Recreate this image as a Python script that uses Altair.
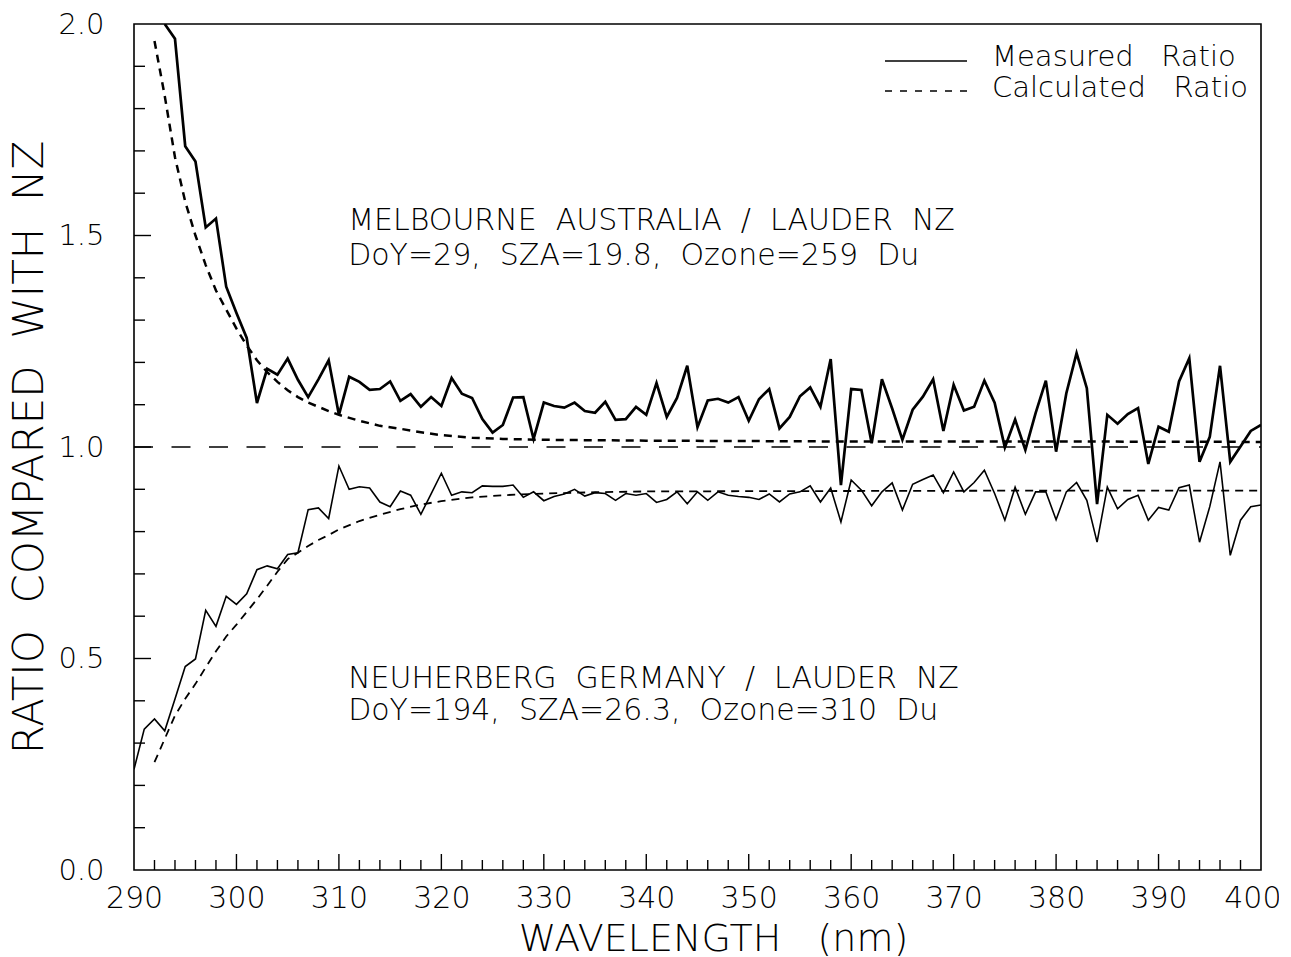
import altair as alt
import pandas as pd

FONT = "DejaVu Sans"
FW = 300
SP = " \u00a0"  # wider word gap

# ---------------- data ----------------
mel_wl = list(range(293, 401))
mel_meas = [
    2.000, 1.965, 1.711, 1.675, 1.519, 1.540, 1.379, 1.317, 1.258, 1.104,   # 293-302
    1.185, 1.171, 1.209, 1.159, 1.118, 1.160, 1.205, 1.076, 1.166, 1.154,   # 303-312
    1.135, 1.137, 1.155, 1.109, 1.125, 1.095, 1.118, 1.097, 1.163, 1.126,   # 313-322
    1.116, 1.066, 1.034, 1.052, 1.117, 1.118, 1.019, 1.105, 1.097, 1.093,   # 323-332
    1.105, 1.085, 1.081, 1.107, 1.064, 1.066, 1.095, 1.076, 1.151, 1.071,   # 333-342
    1.116, 1.192, 1.047, 1.110, 1.114, 1.105, 1.118, 1.062, 1.113, 1.137,   # 343-352
    1.044, 1.071, 1.120, 1.141, 1.095, 1.208, 0.910, 1.137, 1.135, 1.009,   # 353-362
    1.160, 1.091, 1.017, 1.088, 1.119, 1.160, 1.038, 1.147, 1.086, 1.095,   # 363-372
    1.157, 1.105, 0.999, 1.065, 0.993, 1.080, 1.157, 0.989, 1.127, 1.222,   # 373-382
    1.139, 0.865, 1.076, 1.055, 1.078, 1.092, 0.960, 1.048, 1.036, 1.155,   # 383-392
    1.210, 0.965, 1.024, 1.192, 0.965, 1.001, 1.038, 1.052,                 # 393-400
]

neu_wl = list(range(290, 401))
neu_meas = [
    0.238, 0.333, 0.357, 0.329, 0.404, 0.481, 0.499, 0.614, 0.576, 0.647,   # 290-299
    0.628, 0.653, 0.710, 0.719, 0.712, 0.746, 0.750, 0.852, 0.856, 0.831,   # 300-309
    0.955, 0.900, 0.906, 0.903, 0.870, 0.859, 0.896, 0.886, 0.841, 0.889,   # 310-319
    0.938, 0.886, 0.894, 0.892, 0.908, 0.907, 0.907, 0.910, 0.881, 0.894,   # 320-329
    0.873, 0.883, 0.889, 0.900, 0.884, 0.892, 0.890, 0.874, 0.890, 0.886,   # 330-339
    0.890, 0.869, 0.876, 0.894, 0.866, 0.894, 0.874, 0.894, 0.886, 0.883,   # 340-349
    0.881, 0.876, 0.889, 0.870, 0.889, 0.894, 0.908, 0.870, 0.903, 0.823,   # 350-359
    0.922, 0.898, 0.861, 0.894, 0.915, 0.851, 0.912, 0.923, 0.934, 0.892,   # 360-369
    0.941, 0.894, 0.916, 0.945, 0.890, 0.827, 0.905, 0.841, 0.894, 0.894,   # 370-379
    0.828, 0.894, 0.916, 0.874, 0.775, 0.905, 0.854, 0.876, 0.886, 0.827,   # 380-389
    0.857, 0.851, 0.904, 0.910, 0.775, 0.859, 0.965, 0.744, 0.827, 0.859,   # 390-399
    0.863,                                                                  # 400
]

mel_calc_wl = [292, 293, 294, 295, 296, 297, 298, 299, 300, 301, 302, 303, 304,
               305, 306, 307, 308, 309, 310, 312, 314, 316, 318, 320, 323, 326,
               330, 340, 360, 380, 400]
mel_calc = [1.960, 1.830, 1.685, 1.580, 1.500, 1.430, 1.370, 1.325, 1.280, 1.240,
            1.205, 1.177, 1.154, 1.134, 1.118, 1.105, 1.095, 1.085, 1.076, 1.062,
            1.050, 1.043, 1.035, 1.028, 1.022, 1.019, 1.017, 1.015, 1.013, 1.013,
            1.012]

neu_calc_wl = [292, 293, 294, 295, 296, 297, 298, 299, 300, 301, 302, 303, 304,
               305, 306, 307, 308, 309, 310, 312, 314, 316, 318, 320, 323, 326,
               330, 335, 340, 360, 380, 400]
neu_calc = [0.255, 0.310, 0.365, 0.405, 0.440, 0.479, 0.517, 0.552, 0.580, 0.610,
            0.640, 0.672, 0.705, 0.735, 0.750, 0.766, 0.780, 0.792, 0.805, 0.825,
            0.840, 0.853, 0.864, 0.872, 0.881, 0.886, 0.890, 0.893, 0.895, 0.896,
            0.897, 0.897]

x_ticks = [290, 300, 310, 320, 330, 340, 350, 360, 370, 380, 390, 400]
y_ticks = [0.0, 0.5, 1.0, 1.5, 2.0]
x_minor = [w for w in range(292, 400, 2) if w % 10 != 0]
x_major = [300, 310, 320, 330, 340, 350, 360, 370, 380, 390]
y_minor = [round(i / 10, 1) for i in range(1, 20) if i % 5 != 0]
y_major = [0.5, 1.0, 1.5]

legend_labels = ["Measured \u00a0\u00a0Ratio", "Calculated \u00a0\u00a0Ratio"]

assert len(mel_wl) == len(mel_meas)
assert len(neu_wl) == len(neu_meas)
assert len(mel_calc_wl) == len(mel_calc)
assert len(neu_calc_wl) == len(neu_calc)

W, H = 1127, 846

xs = alt.Scale(domain=[290, 400], nice=False, zero=False)
ys = alt.Scale(domain=[0, 2], nice=False, zero=False)

x_axis = alt.Axis(values=x_ticks, format="d", labelFontSize=30, labelFont=FONT,
                  labelFontWeight=FW,
                  labelAlign={"expr": "datum.value >= 400 ? 'right' : 'center'"},
                  labelOffset={"expr": "datum.value >= 400 ? 20 : 0"},
                  labelPadding=13, labelFlush=False, labelOverlap=False,
                  labelColor="black", ticks=False, domain=False, grid=False,
                  title="WAVELENGTH \u00a0\u00a0(nm)", titleFont=FONT, titleFontSize=38,
                  titleFontWeight=FW, titleColor="black",
                  titleX=579, titleY=80, titleBaseline="alphabetic",
                  titleAlign="center")
y_axis = alt.Axis(values=y_ticks, format=".1f", labelFontSize=29, labelFont=FONT,
                  labelFontWeight=FW,
                  labelPadding=30, labelColor="black", labelFlush=False,
                  labelOverlap=False, ticks=False, domain=False, grid=False,
                  title="RATIO" + SP + "COMPARED" + SP + "WITH" + SP + "NZ",
                  titleFont=FONT, titleFontSize=42,
                  titleFontWeight=FW, titleColor="black",
                  titleX=-92, titleY=H / 2, titleAngle=270,
                  titleBaseline="alphabetic", titleAlign="center")

def series(wl, vals):
    return pd.DataFrame({"w": wl, "v": vals})

base_enc = dict(x=alt.X("w:Q", scale=xs, axis=x_axis),
                y=alt.Y("v:Q", scale=ys, axis=y_axis))

mel_m = alt.Chart(series(mel_wl, mel_meas)).mark_line(
    color="black", strokeWidth=2.7, clip=True).encode(**base_enc)
neu_m = alt.Chart(series(neu_wl, neu_meas)).mark_line(
    color="black", strokeWidth=1.6, clip=True).encode(**base_enc)
mel_c = alt.Chart(series(mel_calc_wl, mel_calc)).mark_line(
    color="black", strokeWidth=2.5, strokeDash=[8, 6], clip=True).encode(**base_enc)
neu_c = alt.Chart(series(neu_calc_wl, neu_calc)).mark_line(
    color="black", strokeWidth=1.8, strokeDash=[8, 6], clip=True).encode(**base_enc)

one = pd.DataFrame({"k": [0]})
ref = alt.Chart(one).mark_rule(color="black", strokeWidth=1.4,
                               strokeDash=[19, 18.5]).encode(
    x=alt.datum(290, scale=xs), x2=alt.datum(400), y=alt.datum(1.0, scale=ys))

# inward tick marks
xt_min = alt.Chart(pd.DataFrame({"w": x_minor})).mark_rule(
    color="black", strokeWidth=1.4).encode(
    x=alt.X("w:Q", scale=xs), y=alt.value(H), y2=alt.value(H - 10))
xt_maj = alt.Chart(pd.DataFrame({"w": x_major})).mark_rule(
    color="black", strokeWidth=1.4).encode(
    x=alt.X("w:Q", scale=xs), y=alt.value(H), y2=alt.value(H - 16))
yt_min = alt.Chart(pd.DataFrame({"v": y_minor})).mark_rule(
    color="black", strokeWidth=1.4).encode(
    y=alt.Y("v:Q", scale=ys), x=alt.value(0), x2=alt.value(11))
yt_maj = alt.Chart(pd.DataFrame({"v": y_major})).mark_rule(
    color="black", strokeWidth=1.4).encode(
    y=alt.Y("v:Q", scale=ys), x=alt.value(0), x2=alt.value(17))

def note(text, x, y):
    return alt.Chart(one).mark_text(
        align="left", baseline="alphabetic", font=FONT, fontSize=30,
        fontWeight=FW, color="black").encode(
        x=alt.datum(x, scale=xs), y=alt.datum(y, scale=ys), text=alt.value(text))

n1 = note("MELBOURNE" + SP + "AUSTRALIA" + SP + "/" + SP + "LAUDER" + SP + "NZ", 310.9, 1.513)
n2 = note("DoY=29," + SP + "SZA=19.8," + SP + "Ozone=259" + SP + "Du", 310.9, 1.430)
n3 = note("NEUHERBERG" + SP + "GERMANY" + SP + "/" + SP + "LAUDER" + SP + "NZ", 310.9, 0.430)
n4 = note("DoY=194," + SP + "SZA=26.3," + SP + "Ozone=310" + SP + "Du", 310.9, 0.355)

# legend (drawn in the top-right corner)
leg_solid = alt.Chart(one).mark_rule(color="black", strokeWidth=1.6).encode(
    x=alt.value(751), x2=alt.value(833), y=alt.value(37))
leg_dash = alt.Chart(one).mark_rule(color="black", strokeWidth=1.6,
                                    strokeDash=[7, 8]).encode(
    x=alt.value(751), x2=alt.value(833), y=alt.value(67))
leg_t1 = alt.Chart(one).mark_text(align="left", baseline="alphabetic", font=FONT,
                                  fontSize=29, fontWeight=FW, color="black").encode(
    x=alt.value(858), y=alt.value(42), text=alt.value(legend_labels[0]))
leg_t2 = alt.Chart(one).mark_text(align="left", baseline="alphabetic", font=FONT,
                                  fontSize=29, fontWeight=FW, color="black").encode(
    x=alt.value(858), y=alt.value(73), text=alt.value(legend_labels[1]))

chart = alt.layer(
    ref, neu_c, mel_c, neu_m, mel_m,
    xt_min, xt_maj, yt_min, yt_maj,
    n1, n2, n3, n4,
    leg_solid, leg_dash, leg_t1, leg_t2,
).properties(
    width=W, height=H,
    autosize=alt.AutoSizeParams(type="none"),
    padding={"left": 126, "top": 16, "right": 18, "bottom": 86},
    background="white",
).configure_view(
    stroke="black", strokeWidth=1.6
)

chart.save("out.html", embed_options={"renderer": "svg", "actions": False})
